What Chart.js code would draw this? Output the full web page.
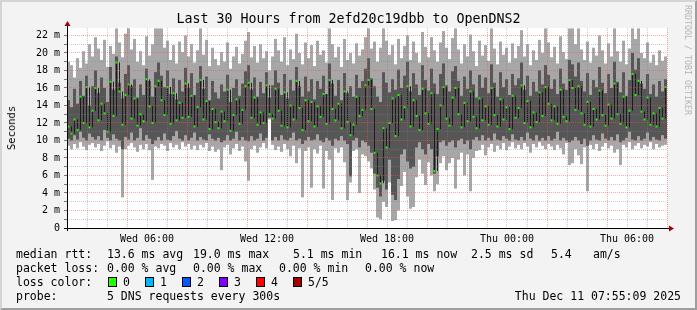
<!DOCTYPE html>
<html>
<head>
<meta charset="utf-8">
<script src="https://cdn.jsdelivr.net/npm/chart.js@4"></script>
<style>
  body { margin: 0; background: #f3f3f3; }
  #wrap { position: relative; width: 697px; height: 310px; background: #f3f3f3; overflow: hidden;
          font-family: "DejaVu Sans Mono", monospace; color: #000; }
  #frame { position: absolute; left: 0; top: 0; width: 697px; height: 310px; box-sizing: border-box;
           border-top: 2px solid #d4d4d4; border-left: 2px solid #d4d4d4;
           border-bottom: 2px solid #9e9e9e; border-right: 2px solid #9e9e9e; pointer-events: none; }
  canvas { position: absolute; left: 0; top: 0; }
  .t { position: absolute; white-space: pre; font-size: 11.5px; line-height: 14px; }
  .box { position: absolute; top: 277px; width: 9px; height: 10px; box-sizing: border-box; border: 1px solid #000; }
  #title { position: absolute; left: 0; top: 11px; width: 697px; text-align: center; font-size: 13.3px; line-height: 16px; }
  #ylab { position: absolute; left: 11px; top: 128px; font-size: 10.5px; white-space: pre;
          transform: translate(-50%, -50%) rotate(-90deg); }
  #mark { position: absolute; left: 688px; top: 60px; font-size: 8.3px; color: #b4b4b4; white-space: pre;
          transform: translate(-50%, -50%) rotate(90deg); }
</style>
</head>
<body>
<div id="wrap">
  <canvas id="myCanvas" width="697" height="310"></canvas>
  <div id="title">Last 30 Hours from 2efd20c19dbb to OpenDNS2</div>
  <div id="ylab">Seconds</div>
  <div id="mark">RRDTOOL / TOBI OETIKER</div>

  <div class="t" style="left:16px;top:247px">median rtt:</div>
  <div class="t" style="left:107px;top:247px">13.6 ms avg</div>
  <div class="t" style="left:193px;top:247px">19.0 ms max</div>
  <div class="t" style="left:293px;top:247px">5.1 ms min</div>
  <div class="t" style="left:381px;top:247px">16.1 ms now</div>
  <div class="t" style="left:471px;top:247px">2.5 ms sd</div>
  <div class="t" style="left:551px;top:247px">5.4</div>
  <div class="t" style="left:593px;top:247px">am/s</div>

  <div class="t" style="left:16px;top:261px">packet loss:</div>
  <div class="t" style="left:107px;top:261px">0.00 % avg</div>
  <div class="t" style="left:193px;top:261px">0.00 % max</div>
  <div class="t" style="left:279px;top:261px">0.00 % min</div>
  <div class="t" style="left:365px;top:261px">0.00 % now</div>

  <div class="t" style="left:16px;top:275px">loss color:</div>
  <div id="losskey"></div>

  <div class="t" style="left:16px;top:289px">probe:</div>
  <div class="t" style="left:107px;top:289px">5 DNS requests every 300s</div>
  <div class="t" style="right:16px;top:289px">Thu Dec 11 07:55:09 2025</div>
  <div id="frame"></div>
</div>
<script>
// 9 minute steps starting Wed 02:00 (hour 0 of the 30 hour window)
let maxRtt = [
  19.0,18.6,17.2,19.4,18.3,20.2,18.8,21.0,19.6,21.8,
  20.5,19.2,21.5,18.4,20.8,19.9,22.8,21.2,19.5,22.2,
  22.8,20.4,21.6,19.0,20.2,18.6,21.9,19.7,21.0,22.8,
  22.8,22.8,20.6,21.4,19.2,20.9,18.8,21.3,20.1,22.0,
  19.6,21.0,18.9,20.3,22.8,19.8,21.5,18.5,20.6,19.3,
  18.6,20.1,19.0,21.2,18.2,19.6,20.7,18.8,19.9,21.4,
  22.4,19.5,20.8,18.9,21.0,19.4,20.2,18.0,19.6,21.6,
  20.3,19.0,21.8,18.6,20.4,19.3,22.2,20.0,18.7,21.2,
  19.4,20.9,18.5,21.4,19.8,20.3,18.9,22.8,21.0,19.5,
  20.7,18.4,21.6,19.2,20.0,18.8,21.1,19.7,20.4,21.8,
  22.8,20.5,21.3,19.0,20.6,22.8,21.4,19.8,20.9,18.7,
  21.6,19.4,20.8,22.0,19.2,21.3,20.0,18.9,22.4,20.7,
  19.5,21.8,20.3,19.0,21.2,22.5,20.6,19.3,21.7,22.8,
  20.4,18.8,21.0,19.6,22.1,20.2,18.5,21.4,19.7,20.9,
  19.1,22.8,20.5,18.7,21.3,19.8,20.6,18.9,21.1,19.4,
  20.8,22.6,19.6,21.0,18.6,20.3,19.2,21.5,20.0,22.8,
  21.2,19.5,20.7,18.8,21.9,20.1,19.3,22.8,22.8,21.0,
  22.8,20.4,19.2,21.3,18.9,20.6,19.7,22.0,20.3,18.8,
  21.1,19.6,22.8,20.2,19.0,21.4,18.7,20.5,22.8,21.6,
  22.8,20.0,19.4,21.2,18.9,19.8,18.6,20.3,19.1,19.6
];
let highRtt = [
  14.6,13.8,15.9,14.2,16.8,15.1,17.4,14.0,16.2,18.0,
  15.4,17.2,16.0,14.4,18.4,15.8,19.6,16.6,14.8,17.6,
  18.6,16.2,17.0,14.9,16.4,15.2,18.2,16.8,15.0,17.8,
  18.9,17.4,16.1,18.0,15.3,17.1,14.7,16.9,15.6,18.3,
  16.0,17.7,15.2,16.6,18.5,15.9,17.3,14.6,16.8,15.5,
  14.8,16.4,15.6,17.5,14.4,16.0,17.0,15.1,16.5,17.9,
  18.6,15.8,17.2,15.0,16.7,15.4,17.8,14.9,16.3,18.0,
  16.6,15.2,17.6,14.8,16.9,15.7,18.4,16.2,15.0,17.3,
  15.6,17.0,14.7,16.8,15.9,17.4,15.3,18.8,16.5,15.1,
  16.9,14.6,17.7,15.4,16.2,15.0,17.5,16.0,16.8,18.2,
  19.4,17.1,16.2,15.0,14.4,17.8,16.6,15.5,17.0,15.8,
  18.1,16.0,17.4,19.0,15.6,17.7,16.4,15.2,18.6,16.9,
  15.7,18.2,16.5,15.3,17.6,18.8,16.3,15.6,17.9,18.5,
  16.8,15.1,17.3,15.9,18.0,16.4,14.9,17.5,16.0,17.2,
  15.4,18.7,16.6,15.0,17.8,16.1,17.0,15.2,17.6,16.3,
  17.1,18.9,15.8,17.4,15.1,16.7,15.6,18.0,16.4,18.6,
  17.5,15.9,17.0,15.3,18.2,16.5,15.8,19.2,18.7,17.3,
  18.9,16.8,15.6,17.7,15.2,16.9,16.1,18.4,16.6,15.4,
  17.6,16.0,19.0,16.7,15.5,17.8,15.1,16.9,20.0,18.1,
  19.4,16.5,15.9,17.6,15.3,16.4,15.0,16.8,15.6,17.0
];
let medianRtt = [
  11.6,10.8,12.4,11.2,15.0,12.0,16.1,11.5,13.4,16.0,
  12.3,14.2,13.1,11.0,16.7,12.8,18.9,15.6,11.8,15.2,
  16.4,12.5,14.8,11.7,13.0,12.2,17.0,13.9,12.0,16.2,
  16.8,14.6,12.9,16.1,11.9,15.4,12.3,14.3,12.6,16.5,
  12.7,15.1,11.6,13.8,16.9,12.4,14.5,11.3,13.6,12.1,
  11.4,13.3,12.2,15.8,11.1,12.9,14.7,11.9,13.5,16.2,
  16.6,12.6,14.9,11.8,13.2,12.0,16.3,13.0,12.5,15.9,
  13.4,11.7,15.5,11.5,14.0,12.4,16.8,13.7,11.2,14.6,
  12.2,14.4,11.6,13.9,12.7,15.3,11.9,16.9,13.6,12.3,
  14.2,11.4,15.6,12.1,10.6,11.8,15.0,12.8,13.5,16.3,
  16.9,13.6,8.6,6.0,5.1,11.4,9.2,12.0,14.8,10.5,
  15.2,12.4,13.8,16.2,11.6,14.6,12.8,11.2,15.9,13.1,
  11.9,15.4,6.5,11.3,14.0,16.1,12.5,11.7,14.9,16.0,
  13.0,11.5,14.3,12.2,15.6,12.7,11.4,14.8,12.3,13.9,
  11.8,16.0,12.9,11.6,14.7,12.4,13.8,11.3,15.1,12.6,
  13.7,16.3,12.0,14.5,11.5,13.2,12.1,15.5,12.8,16.1,
  14.2,12.3,13.9,11.9,15.8,12.7,12.2,16.9,16.0,13.5,
  16.2,13.1,11.8,14.4,11.6,13.6,12.4,15.7,12.9,11.7,
  14.1,12.5,16.5,13.0,11.9,15.0,11.5,13.4,17.6,15.2,
  16.8,13.3,12.4,14.9,11.8,13.1,11.6,13.7,12.5,16.1
];
let lowRtt = [
  10.2,10.0,10.6,10.1,11.0,10.3,10.0,10.8,10.4,10.1,
  10.5,10.0,11.2,10.3,10.0,10.7,10.2,10.0,9.0,10.4,
  10.1,10.9,10.0,10.3,11.4,10.0,10.6,10.2,9.6,10.0,
  10.4,10.0,10.8,10.1,10.0,10.5,11.1,10.2,10.0,10.6,
  10.0,10.3,10.9,10.0,10.4,10.1,10.0,10.7,10.2,10.0,
  10.3,9.8,10.0,10.6,10.0,10.2,11.0,10.0,10.4,10.0,
  9.9,10.5,10.0,10.2,10.8,10.0,10.3,12.6,10.0,10.4,
  10.0,10.6,10.1,10.0,10.3,10.9,10.0,10.2,9.6,10.0,
  10.4,10.0,10.1,10.7,10.0,9.8,10.3,10.0,9.4,10.2,
  10.0,10.5,10.0,9.6,5.9,10.0,10.3,9.2,10.0,9.8,
  9.4,8.6,6.2,4.6,3.6,5.4,4.4,7.8,3.8,3.2,
  5.6,8.4,9.0,7.6,6.8,7.0,9.2,9.8,9.0,8.4,
  9.6,9.0,6.2,8.2,9.8,10.0,9.4,9.8,10.0,9.2,
  10.0,10.2,9.6,10.0,9.0,10.1,10.4,10.0,10.6,10.0,
  10.3,10.0,10.8,10.1,10.0,10.5,10.2,10.0,10.7,10.1,
  10.0,10.4,10.0,10.9,10.2,10.0,10.6,10.0,10.3,10.0,
  10.5,10.0,10.2,11.0,10.0,10.3,10.0,9.8,10.0,10.4,
  10.0,9.6,10.2,9.4,10.0,10.6,10.1,10.0,10.8,10.2,
  10.0,10.4,10.0,10.7,9.8,10.0,10.3,11.0,10.1,10.0,
  10.5,10.0,10.2,10.9,10.0,10.4,10.1,10.0,10.6,10.2
];
let minRtt = [
  9.4,9.0,9.6,9.1,9.8,9.3,8.9,9.5,9.7,9.2,
  9.6,8.8,9.4,9.9,9.1,9.5,8.6,9.3,3.5,9.0,
  9.4,9.7,9.2,8.7,9.5,9.0,9.6,8.9,5.5,9.3,
  9.1,9.6,9.4,8.8,9.7,9.2,9.5,9.0,9.8,9.3,
  9.6,9.0,9.4,8.9,9.5,9.2,9.7,8.8,9.3,8.7,
  9.0,6.6,9.2,9.5,8.4,9.1,9.6,8.8,9.3,7.6,
  5.4,9.0,9.4,8.6,9.2,9.7,9.1,12.4,9.5,8.9,
  9.3,8.7,9.6,9.0,8.2,9.4,7.4,9.1,3.5,8.8,
  9.2,4.6,9.0,8.5,9.4,4.5,8.8,7.8,3.2,9.1,
  8.6,9.2,7.5,3.2,5.2,8.8,9.0,4.0,8.4,8.2,
  7.6,6.8,4.4,1.2,1.0,3.0,2.4,5.2,0.8,0.9,
  2.0,4.8,6.4,3.6,2.2,2.4,5.8,7.8,6.2,4.9,
  7.5,6.0,4.2,5.0,7.4,8.2,6.6,7.4,8.0,4.5,
  7.8,8.6,6.0,8.4,4.2,8.0,8.8,8.9,9.5,8.3,
  9.2,9.6,8.7,9.4,9.0,9.7,8.9,9.3,9.8,9.1,
  9.5,9.0,9.7,9.3,8.6,9.6,9.2,9.8,9.4,9.0,
  9.6,9.3,8.9,9.5,9.1,8.4,9.7,7.2,7.4,9.0,
  8.3,7.3,9.2,4.2,9.5,9.0,9.6,8.8,9.3,9.7,
  9.1,9.4,8.6,9.0,7.2,9.5,9.2,9.8,9.0,9.4,
  9.7,9.1,9.5,9.3,9.8,9.0,9.6,9.2,9.4,9.5
];
let stepHours = 0.15;
let hours = minRtt.map((v, i) => i * stepHours + stepHours / 2);

let tickHours = [4, 10, 16, 22, 28];
let tickLabels = ["Wed 06:00", "Wed 12:00", "Wed 18:00", "Thu 00:00", "Thu 06:00"];

let lossLabels = ["0", "1", "2", "3", "4", "5/5"];
let lossColors = ["#26ff00", "#00b8ff", "#0059ff", "#7e00ff", "#ff0000", "#a00000"];
let lossBoxX = [108, 145, 182, 219, 256, 293];

let key = document.getElementById("losskey");
lossLabels.forEach((lab, i) => {
  let b = document.createElement("div");
  b.className = "box";
  b.style.left = lossBoxX[i] + "px";
  b.style.background = lossColors[i];
  key.appendChild(b);
  let t = document.createElement("div");
  t.className = "t";
  t.style.left = (lossBoxX[i] + 15) + "px";
  t.style.top = "275px";
  t.textContent = lab;
  key.appendChild(t);
});

const majorGrid = "rgba(255,80,80,0.5)";
const minorGrid = "rgba(130,130,130,0.4)";

const frame = {
  id: "frame",
  beforeDraw(chart) {
    const { ctx, chartArea: a } = chart;
    ctx.save();
    ctx.fillStyle = "#ffffff";
    ctx.fillRect(a.left, a.top, a.right - a.left, a.bottom - a.top);
    ctx.restore();
  },
  afterDraw(chart) {
    const { ctx, chartArea: a } = chart;
    ctx.save();
    ctx.strokeStyle = "#000";
    ctx.lineWidth = 1;
    ctx.beginPath();
    ctx.moveTo(a.left - 3, a.bottom + 0.5);
    ctx.lineTo(a.right + 3, a.bottom + 0.5);
    ctx.moveTo(a.left + 0.5, a.bottom + 3);
    ctx.lineTo(a.left + 0.5, a.top - 2);
    ctx.stroke();
    ctx.fillStyle = "#a00000";
    ctx.beginPath();
    ctx.moveTo(a.right + 7, a.bottom + 0.5);
    ctx.lineTo(a.right + 2, a.bottom - 2.5);
    ctx.lineTo(a.right + 2, a.bottom + 3.5);
    ctx.fill();
    ctx.beginPath();
    ctx.moveTo(a.left + 0.5, a.top - 7);
    ctx.lineTo(a.left - 2.5, a.top - 2);
    ctx.lineTo(a.left + 3.5, a.top - 2);
    ctx.fill();
    ctx.restore();
  }
};

Chart.defaults.font.family = "DejaVu Sans Mono";
Chart.defaults.font.size = 10;
Chart.defaults.color = "#000";

// black step connectors run from the previous median to this one
let connectors = medianRtt.map((v, i) => ({
  x: hours[i],
  y: [i > 0 ? medianRtt[i - 1] : v, v],
}));

let myCanvas = document.getElementById("myCanvas").getContext("2d");
let chart = new Chart(myCanvas, {
  type: "bar",
  data: {
    datasets: [
      {
        type: "line",
        label: "median",
        data: medianRtt.map((v, i) => ({ x: hours[i], y: v })),
        showLine: false,
        pointStyle: "rect",
        pointRadius: 1.45,
        pointBorderWidth: 0,
        pointBackgroundColor: "#22f000",
        order: 0,
      },
      {
        label: "connector",
        data: connectors,
        backgroundColor: "#1c1c1c",
        barThickness: 1,
        order: 1,
      },
      {
        label: "inner",
        data: highRtt.map((v, i) => ({ x: hours[i], y: [lowRtt[i], v] })),
        backgroundColor: "#565656",
        barThickness: 3,
        order: 2,
      },
      {
        label: "outer",
        data: maxRtt.map((v, i) => ({ x: hours[i], y: [minRtt[i], v] })),
        backgroundColor: "#a7a7a7",
        barThickness: 3,
        order: 3,
      },
    ],
  },
  options: {
    responsive: false,
    animation: false,
    devicePixelRatio: 1,
    layout: { padding: { left: 0, right: 30, top: 28, bottom: 0 } },
    datasets: { bar: { grouped: false, borderWidth: 0, inflateAmount: 0 } },
    plugins: { legend: { display: false }, tooltip: { enabled: false } },
    scales: {
      x: {
        type: "linear",
        min: 0,
        max: 30,
        offset: false,
        afterFit: (s) => { s.height = 82; },
        grid: {
          offset: false,
          z: 1,
          drawTicks: false,
          color: (c) => (c.tick.value % 3 === 0 ? majorGrid : minorGrid),
        },
        border: { display: false, dash: [1, 1] },
        ticks: {
          stepSize: 1,
          autoSkip: false,
          maxRotation: 0,
          padding: 5,
          callback: (v) => {
            let k = tickHours.indexOf(v);
            return k < 0 ? "" : tickLabels[k];
          },
        },
      },
      y: {
        min: 0,
        max: 22.85,
        afterFit: (s) => { s.width = 67; },
        grid: {
          z: 1,
          tickLength: 3,
          tickColor: "#777",
          color: (c) => (c.tick.value % 2 === 0 ? majorGrid : minorGrid),
        },
        border: { display: false, dash: [1, 1] },
        ticks: {
          stepSize: 1,
          autoSkip: false,
          includeBounds: false,
          padding: 4,
          callback: (v) => (v % 2 !== 0 ? "" : v === 0 ? "0" : v + " m"),
        },
      },
    },
  },
  plugins: [frame],
});
</script>
</body>
</html>
